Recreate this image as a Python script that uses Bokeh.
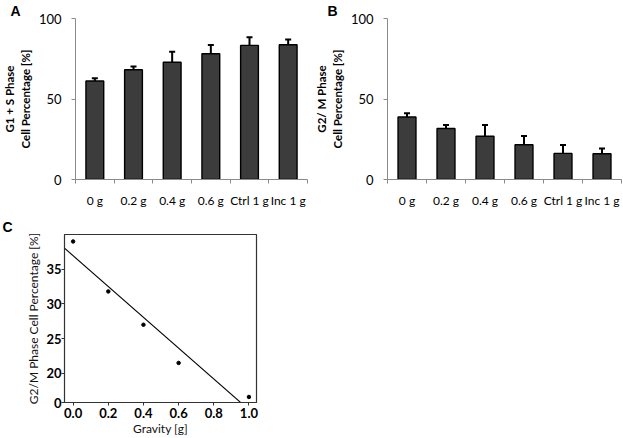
import numpy as np
from bokeh.plotting import figure
from bokeh.layouts import column, row
from bokeh.models import (ColumnDataSource, Whisker, TeeHead, FixedTicker, Range1d)
from bokeh.embed import file_html
from bokeh.resources import INLINE

# ---------------- data ----------------
categories = ["0 g", "0.2 g", "0.4 g", "0.6 g", "Ctrl 1 g", "Inc 1 g"]
g1s_mean = [61.2, 68.2, 72.8, 78.1, 83.3, 83.7]
g1s_err = [1.7, 2.0, 6.5, 5.4, 5.0, 3.3]
g2m_mean = [38.8, 31.7, 26.9, 21.6, 16.2, 16.0]
g2m_err = [2.4, 2.2, 6.9, 5.4, 5.2, 3.3]
bar_ticks = [0, 50, 100]

gravity = [0.0, 0.2, 0.4, 0.6, 1.0]
g2m_pct = [39.0, 31.8, 27.0, 21.5, 16.6]
c_yticks = [15.8, 20, 25, 30, 35]
c_ylabels = ["0", "20", "25", "30", "35"]
c_xticks = [0.0, 0.2, 0.4, 0.6, 0.8, 1.0]

FONT = "Lato"
AXIS_GRAY = "#8a8a8a"


def style_title(p, letter, offset):
    p.title.text = letter
    p.title.align = "left"
    p.title.offset = offset
    p.title.standoff = 0
    p.title.text_font = "Liberation Sans"
    p.title.text_font_size = "14px"
    p.title.text_font_style = "bold"
    p.title.text_color = "black"
    p.title.text_line_height = 0.6


def bar_panel(means, errs, ylabel, width, min_right, letter, offset):
    p = figure(width=width, height=210, output_backend="svg", toolbar_location=None,
               x_range=Range1d(0, len(categories)), y_range=Range1d(0, 100),
               min_border_left=68, min_border_right=min_right,
               min_border_top=16, min_border_bottom=28)
    style_title(p, letter, offset)
    p.outline_line_color = None
    p.xgrid.visible = False
    p.ygrid.visible = False
    centers = [i + 0.5 for i in range(len(categories))]
    lower = [m - e for m, e in zip(means, errs)]
    upper = [m + e for m, e in zip(means, errs)]
    src = ColumnDataSource(dict(x=centers, top=means, lower=lower, upper=upper))
    p.vbar(x="x", top="top", bottom=0, width=0.46, source=src,
           fill_color="#3c3c3c", line_color="black", line_width=1.4)
    w = Whisker(base="x", upper="upper", lower="lower", source=src,
                line_color="black", line_width=2,
                upper_head=TeeHead(size=6, line_width=2, line_color="black"),
                lower_head=TeeHead(size=6, line_width=2, line_color="black"))
    p.add_layout(w)

    xa = p.xaxis[0]
    xa.ticker = FixedTicker(ticks=centers, minor_ticks=list(range(len(categories) + 1)))
    xa.major_label_overrides = {c: lab for c, lab in zip(centers, categories)}
    xa.major_tick_out = 0
    xa.major_tick_in = 0
    xa.minor_tick_out = 4
    xa.minor_tick_in = 0
    xa.axis_line_color = AXIS_GRAY
    xa.minor_tick_line_color = AXIS_GRAY
    xa.major_label_text_font = FONT
    xa.major_label_text_font_size = "12px"
    xa.major_label_text_color = "black"
    xa.major_label_standoff = 9

    ya = p.yaxis[0]
    ya.ticker = FixedTicker(ticks=bar_ticks, minor_ticks=[])
    ya.major_tick_out = 4
    ya.major_tick_in = 0
    ya.axis_line_color = AXIS_GRAY
    ya.major_tick_line_color = AXIS_GRAY
    ya.major_label_text_font = FONT
    ya.major_label_text_font_size = "13px"
    ya.major_label_text_color = "black"
    ya.major_label_standoff = 10
    ya.axis_label = ylabel
    ya.axis_label_text_font = FONT
    ya.axis_label_text_font_size = "11.5px"
    ya.axis_label_text_font_style = "bold"
    ya.axis_label_text_color = "black"
    ya.axis_label_standoff = 4
    return p


pA = bar_panel(g1s_mean, g1s_err, "G1 + S Phase\nCell Percentage [%]", 312, 5, "A", -65)
pB = bar_panel(g2m_mean, g2m_err, "G2/ M Phase\nCell Percentage [%]", 311, 2, "B", -60)

# ---------------- panel C ----------------
xr = (-0.049, 1.043)
pC = figure(width=310, height=228, output_backend="svg", toolbar_location=None,
            x_range=Range1d(*xr), y_range=Range1d(15.8, 40.0),
            min_border_left=64, min_border_right=54, min_border_top=24, min_border_bottom=31)
style_title(pC, "C", -62)
pC.xgrid.visible = False
pC.ygrid.visible = False
pC.outline_line_color = "#333333"
pC.outline_line_width = 1.2

slope, intercept = np.polyfit(gravity, g2m_pct, 1)
fx = list(xr)
fy = [intercept + slope * v for v in fx]
pC.line(fx, fy, line_color="black", line_width=1.1)
pC.scatter(gravity, g2m_pct, size=3.5, fill_color="black", line_color="black")

cx = pC.xaxis[0]
cx.ticker = FixedTicker(ticks=c_xticks, minor_ticks=[])
cx.major_label_overrides = {t: f"{t:.1f}" for t in c_xticks}
cx.major_tick_out = 3
cx.major_tick_in = 0
cx.axis_line_color = "#333333"
cx.major_tick_line_color = "#333333"
cx.major_label_text_font = FONT
cx.major_label_text_font_size = "13px"
cx.major_label_text_font_style = "bold"
cx.major_label_text_color = "black"
cx.major_label_standoff = 2
cx.axis_label = "Gravity [g]"
cx.axis_label_text_font = FONT
cx.axis_label_text_font_size = "12px"
cx.axis_label_text_font_style = "normal"
cx.axis_label_text_color = "#111111"
cx.axis_label_standoff = 0

cy = pC.yaxis[0]
cy.ticker = FixedTicker(ticks=c_yticks, minor_ticks=[])
cy.major_label_overrides = {t: lab for t, lab in zip(c_yticks, c_ylabels)}
cy.major_tick_out = 3
cy.major_tick_in = 0
cy.axis_line_color = "#333333"
cy.major_tick_line_color = "#333333"
cy.major_label_text_font = FONT
cy.major_label_text_font_size = "13px"
cy.major_label_text_font_style = "bold"
cy.major_label_text_color = "black"
cy.major_label_standoff = 0
cy.axis_label = "G2/M Phase Cell Percentage [%]"
cy.axis_label_text_font = FONT
cy.axis_label_text_font_size = "12px"
cy.axis_label_text_font_style = "normal"
cy.axis_label_text_color = "#111111"
cy.axis_label_standoff = 2

layout = column(row(pA, pB), pC)
open("out.html", "w").write(file_html(layout, INLINE))
